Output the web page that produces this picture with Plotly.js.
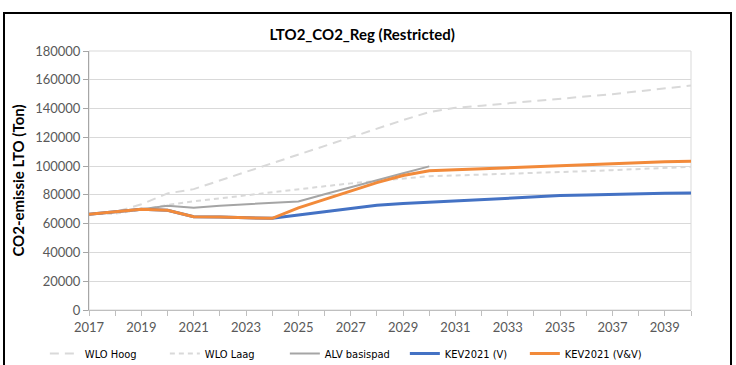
<!DOCTYPE html>
<html>
<head>
<meta charset="utf-8">
<script src="https://cdn.plot.ly/plotly-3.0.1.min.js"></script>
<style>
  html, body { margin: 0; padding: 0; background: #ffffff; }
  #wrap { position: relative; width: 736px; height: 365px; overflow: hidden; }
  #chart { position: absolute; left: 0; top: 0; width: 736px; height: 365px; }
  #frame { position: absolute; left: 3px; top: 12px; width: 725px; height: 360px;
           border-left: 2px solid #000; border-top: 2px solid #000; border-right: 2px solid #000;
           pointer-events: none; }
</style>
</head>
<body>
<div id="wrap">
  <div id="chart"></div>
  <div id="frame"></div>
</div>
<script>
const years = [2017, 2018, 2019, 2020, 2021, 2022, 2023, 2024, 2025, 2026, 2027, 2028,
               2029, 2030, 2031, 2032, 2033, 2034, 2035, 2036, 2037, 2038, 2039, 2040];
const alvYears = [2017, 2018, 2019, 2020, 2021, 2022, 2023, 2024, 2025, 2026, 2027, 2028, 2029, 2030];

const wloHoog = [66500, 68000, 73500, 81000, 84000, 90000, 96000, 102000, 108000, 114500, 120500, 126500,
                 132000, 137500, 140500, 142000, 143500, 145000, 146500, 148000, 150000, 152000, 154000, 156000];
const wloLaag = [66500, 67000, 69500, 73000, 75500, 77500, 79500, 81500, 84000, 86000, 88000, 89500,
                 91500, 93000, 93500, 94000, 94500, 95000, 95800, 96500, 97200, 98000, 98800, 99500];
const alvBasispad = [66500, 68000, 70000, 72400, 71100, 72500, 73500, 74500, 75400, 80500, 85500, 90000,
                     95000, 99800];
const kevV = [66500, 68000, 70000, 69300, 64800, 64600, 64200, 63700, 66000, 68100, 70200, 72800,
              74000, 75000, 76000, 77000, 78000, 78800, 79500, 80000, 80500, 81000, 81100, 81300];
const kevVV = [66500, 68000, 70000, 69300, 64800, 64600, 64200, 63700, 71000, 77000, 83000, 88500,
               93500, 96800, 97500, 98000, 98800, 99500, 100300, 101000, 101800, 102600, 103100, 103400];

const seriesNames = ['WLO Hoog', 'WLO Laag', 'ALV basispad', 'KEV2021 (V)', 'KEV2021 (V&V)'];
const yTickVals = [0, 20000, 40000, 60000, 80000, 100000, 120000, 140000, 160000, 180000];
const xTickVals = [2017, 2019, 2021, 2023, 2025, 2027, 2029, 2031, 2033, 2035, 2037, 2039];

const FONT = 'Lato, "Liberation Sans", sans-serif';
const NARROW = '"Liberation Sans Narrow", "DejaVu Sans Condensed", Roboto, sans-serif';
const TXT = '#595959';

const traces = [
  { x: years, y: wloHoog, name: seriesNames[0], mode: 'lines',
    line: { color: '#d9d9d9', width: 2, dash: '9px,6px' } },
  { x: years, y: wloLaag, name: seriesNames[1], mode: 'lines',
    line: { color: '#d9d9d9', width: 2, dash: '5px,4px' } },
  { x: alvYears, y: alvBasispad, name: seriesNames[2], mode: 'lines',
    line: { color: '#a5a5a5', width: 2 } },
  { x: years, y: kevV, name: seriesNames[3], mode: 'lines',
    line: { color: '#4472c4', width: 3 } },
  { x: years, y: kevVV, name: seriesNames[4], mode: 'lines',
    line: { color: '#f28a3a', width: 3 } }
];

const layout = {
  width: 736, height: 365,
  margin: { l: 89, r: 45, t: 51, b: 55, autoexpand: false },
  paper_bgcolor: '#ffffff', plot_bgcolor: '#ffffff',
  font: { family: FONT, size: 13, color: TXT },
  showlegend: true,
  title: { text: '<b>LTO2_CO2_Reg (Restricted)</b>', x: 0.492, xanchor: 'center',
           y: 0.905, yanchor: 'middle', font: { family: FONT, size: 15, color: '#000000' } },
  xaxis: {
    range: [2017, 2040], tickvals: xTickVals, ticktext: xTickVals.map(String),
    ticks: 'outside', ticklen: 5, tickcolor: '#bfbfbf', tickwidth: 1,
    minor: { dtick: 1, tick0: 2017, ticks: 'outside', ticklen: 5, tickcolor: '#bfbfbf', showgrid: false },
    showline: true, linecolor: '#bfbfbf', linewidth: 1,
    showgrid: false, zeroline: false, fixedrange: true, automargin: false,
    tickfont: { family: FONT, size: 13, color: TXT }
  },
  yaxis: {
    range: [0, 180000], tickvals: yTickVals, ticktext: yTickVals.map(String),
    ticks: 'outside', ticklen: 5, tickcolor: '#a6a6a6',
    showline: true, linecolor: '#a6a6a6', linewidth: 1,
    showgrid: true, gridcolor: '#d9d9d9', gridwidth: 1, zeroline: false, fixedrange: true, automargin: false,
    tickfont: { family: FONT, size: 13, color: TXT },
    title: { text: '<b>CO2-emissie LTO (Ton)</b>', standoff: 6,
             font: { family: FONT, size: 15, color: '#000000' } }
  },
  shapes: [
    { type: 'rect', xref: 'paper', yref: 'paper', x0: 0, x1: 1, y0: 0, y1: 1,
      line: { color: '#d9d9d9', width: 1 }, layer: 'below' }
  ],
  legend: {
    orientation: 'h', x: 0.425, xanchor: 'center', y: -0.112, yanchor: 'top',
    font: { family: NARROW, size: 11, color: '#000000' },
    itemwidth: 30, entrywidth: 75, entrywidthmode: 'pixels',
    tracegroupgap: 0, bgcolor: 'rgba(0,0,0,0)'
  }
};

Plotly.newPlot('chart', traces, layout, { staticPlot: true, displayModeBar: false });
</script>
</body>
</html>
